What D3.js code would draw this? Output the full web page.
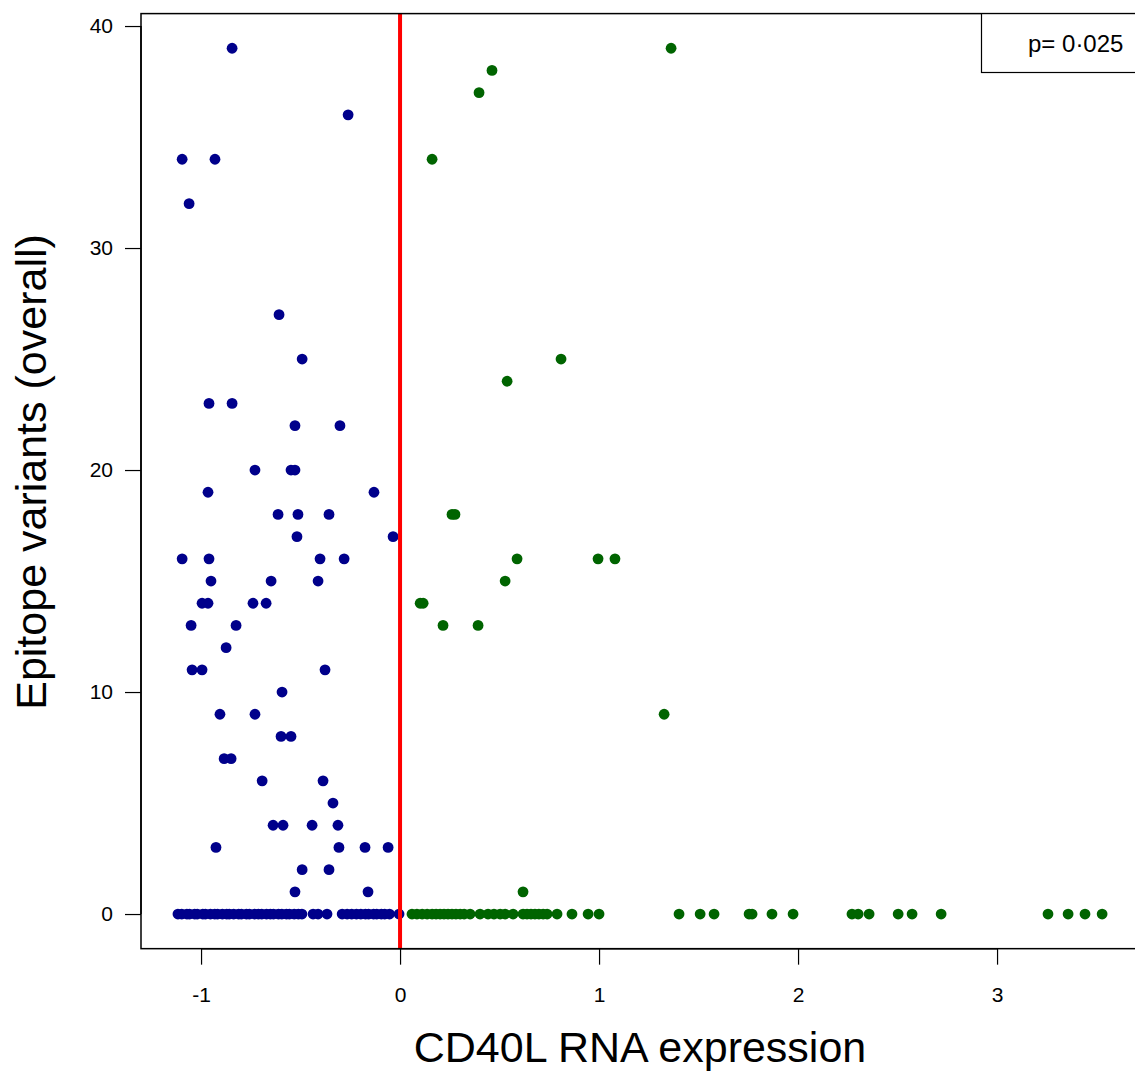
<!DOCTYPE html>
<html>
<head>
<meta charset="utf-8">
<script src="https://cdn.jsdelivr.net/npm/d3@7"></script>
<style>
  html, body { margin: 0; padding: 0; background: #fff; }
  svg { display: block; font-family: "Liberation Sans", Arial, sans-serif; }
</style>
</head>
<body>
<svg id="chart" width="1135" height="1071"></svg>
<script>
// CD40L RNA expression vs. number of epitope variants, split at zero expression

// Low-expression group (x < 0)
const lowX = [
  -0.844, -0.261, -1.095, -0.930, -1.060, -0.608, -0.492, -0.960, -0.844,
  -0.528, -0.302, -0.729, -0.548, -0.528, -0.965, -0.131, -0.613, -0.513, -0.357,
  -0.518, -0.035, -1.095, -0.960, -0.402, -0.281, -0.950, -0.648, -0.412,
  -0.995, -0.965, -0.739, -0.673, -1.050, -0.824, -0.874, -1.045, -0.995, -0.377,
  -0.593, -0.905, -0.729, -0.598, -0.548, -0.884, -0.849, -0.693, -0.387, -0.337,
  -0.638, -0.588, -0.442, -0.312, -0.925, -0.307, -0.176, -0.060, -0.492, -0.357,
  -0.528, -0.161,
  -1.116, -1.097, -1.071, -1.058, -1.032, -1.019, -0.991, -0.978, -0.953, -0.931,
  -0.917, -0.893, -0.871, -0.858, -0.836, -0.811, -0.797, -0.772, -0.757, -0.731,
  -0.712, -0.695, -0.671, -0.652, -0.636, -0.611, -0.594, -0.571, -0.556, -0.532,
  -0.511, -0.493, -0.437, -0.412, -0.367, -0.291, -0.266, -0.243, -0.219, -0.197,
  -0.174, -0.158, -0.133, -0.117, -0.094, -0.077, -0.053, -0.005
];
const lowY = [
  39, 36, 34, 34, 32, 27, 25, 23, 23,
  22, 22, 20, 20, 20, 19, 19, 18, 18, 18,
  17, 17, 16, 16, 16, 16, 15, 15, 15,
  14, 14, 14, 14, 13, 13, 12, 11, 11, 11,
  10, 9, 9, 8, 8, 7, 7, 6, 6, 5,
  4, 4, 4, 4, 3, 3, 3, 3, 2, 2,
  1, 1,
  0, 0, 0, 0, 0, 0, 0, 0, 0, 0,
  0, 0, 0, 0, 0, 0, 0, 0, 0, 0,
  0, 0, 0, 0, 0, 0, 0, 0, 0, 0,
  0, 0, 0, 0, 0, 0, 0, 0, 0, 0,
  0, 0, 0, 0, 0, 0, 0, 0
];

// High-expression group (x > 0)
const highX = [
  1.362, 0.462, 0.397, 0.161, 0.809, 0.538, 0.261, 0.276, 0.588, 0.995, 1.080,
  0.528, 0.101, 0.116, 0.216, 0.392, 1.327, 0.618,
  0.060, 0.085, 0.111, 0.136, 0.161, 0.181, 0.201, 0.221, 0.241, 0.261,
  0.281, 0.302, 0.322, 0.352, 0.402, 0.442, 0.472, 0.503, 0.528, 0.568,
  0.618, 0.638, 0.658, 0.678, 0.698, 0.719, 0.739, 0.789, 0.864, 0.945,
  1.000, 1.402, 1.508, 1.578, 1.754, 1.769, 1.869, 1.975, 2.271, 2.302,
  2.357, 2.503, 2.573, 2.719, 3.256, 3.357, 3.442, 3.528
];
const highY = [
  39, 38, 37, 34, 25, 24, 18, 18, 16, 16, 16,
  15, 14, 14, 13, 13, 9, 1,
  0, 0, 0, 0, 0, 0, 0, 0, 0, 0,
  0, 0, 0, 0, 0, 0, 0, 0, 0, 0,
  0, 0, 0, 0, 0, 0, 0, 0, 0, 0,
  0, 0, 0, 0, 0, 0, 0, 0, 0, 0,
  0, 0, 0, 0, 0, 0, 0, 0
];

const xTicks = [-1, 0, 1, 2, 3];
const yTicks = [0, 10, 20, 30, 40];
const cutoff = 0;
const pLabel = "p= 0\u00B7025";
const xTitle = "CD40L RNA expression";
const yTitle = "Epitope variants (overall)";

const svg = d3.select("#chart");

// axis ranges padded by 4% on each side
function padded(vals) {
  const [lo, hi] = d3.extent(vals);
  const d = (hi - lo) * 0.04;
  return [lo - d, hi + d];
}
const xDom = padded(lowX.concat(highX));
const yDom = padded(lowY.concat(highY));

const pxPerX = 199, pxPerY = 22.2;
const plotLeft = 141, plotTop = 13.6;
const plotW = (xDom[1] - xDom[0]) * pxPerX;
const plotH = (yDom[1] - yDom[0]) * pxPerY;

const x = d3.scaleLinear().domain(xDom).range([plotLeft, plotLeft + plotW]);
const y = d3.scaleLinear().domain(yDom).range([plotTop + plotH, plotTop]);

// points
const low = lowX.map((v, i) => ({ x: v, y: lowY[i] }));
const high = highX.map((v, i) => ({ x: v, y: highY[i] }));

svg.append("g").selectAll("circle").data(low).join("circle")
  .attr("cx", d => x(d.x)).attr("cy", d => y(d.y)).attr("r", 5.4)
  .attr("fill", "#00008B");
svg.append("g").selectAll("circle").data(high).join("circle")
  .attr("cx", d => x(d.x)).attr("cy", d => y(d.y)).attr("r", 5.4)
  .attr("fill", "#006400");

// cutoff line
svg.append("line")
  .attr("x1", x(cutoff)).attr("x2", x(cutoff))
  .attr("y1", y(yDom[1])).attr("y2", y(yDom[0]))
  .attr("stroke", "#FF0000").attr("stroke-width", 4);

// plot frame
svg.append("rect")
  .attr("x", plotLeft).attr("y", plotTop).attr("width", plotW).attr("height", plotH)
  .attr("fill", "none").attr("stroke", "#000").attr("stroke-width", 1.5);

// axes
const xAxis = svg.append("g")
  .attr("transform", `translate(0,${plotTop + plotH})`)
  .call(d3.axisBottom(x).tickValues(xTicks).tickSize(16).tickPadding(22).tickFormat(d3.format("d")));
const yAxis = svg.append("g")
  .attr("transform", `translate(${plotLeft},0)`)
  .call(d3.axisLeft(y).tickValues(yTicks).tickSize(16).tickPadding(12).tickFormat(d3.format("d")));

[xAxis, yAxis].forEach(g => {
  g.select(".domain").remove();
  g.selectAll(".tick line").attr("stroke", "#000").attr("stroke-width", 1.2);
  g.selectAll(".tick text")
    .attr("fill", "#000")
    .style("font-family", "\"Liberation Sans\", Arial, sans-serif")
    .style("font-size", "21px");
});
xAxis.selectAll(".tick text").text(d => d < 0 ? "-" + Math.abs(d) : d);
// y axis line spans the tick range
yAxis.append("line")
  .attr("x1", 0).attr("x2", 0)
  .attr("y1", y(yTicks[0])).attr("y2", y(yTicks[yTicks.length - 1]))
  .attr("stroke", "#000").attr("stroke-width", 1.5);
xAxis.append("line")
  .attr("y1", 0).attr("y2", 0)
  .attr("x1", x(xTicks[0])).attr("x2", x(xTicks[xTicks.length - 1]))
  .attr("stroke", "#000").attr("stroke-width", 1.5);

// axis titles
svg.append("text")
  .attr("x", 640).attr("y", 1062)
  .attr("text-anchor", "middle")
  .style("font-size", "43px")
  .text(xTitle);
svg.append("text")
  .attr("transform", "translate(46,472) rotate(-90)")
  .attr("text-anchor", "middle")
  .style("font-size", "43px")
  .text(yTitle);

// p-value box in the top-right corner
svg.append("rect")
  .attr("x", 981.5).attr("y", plotTop).attr("width", 200).attr("height", 72.5 - plotTop)
  .attr("fill", "#fff").attr("stroke", "#000").attr("stroke-width", 1.2);
svg.append("text")
  .attr("x", 1028).attr("y", 52)
  .style("font-size", "24px")
  .text(pLabel);
</script>
</body>
</html>
